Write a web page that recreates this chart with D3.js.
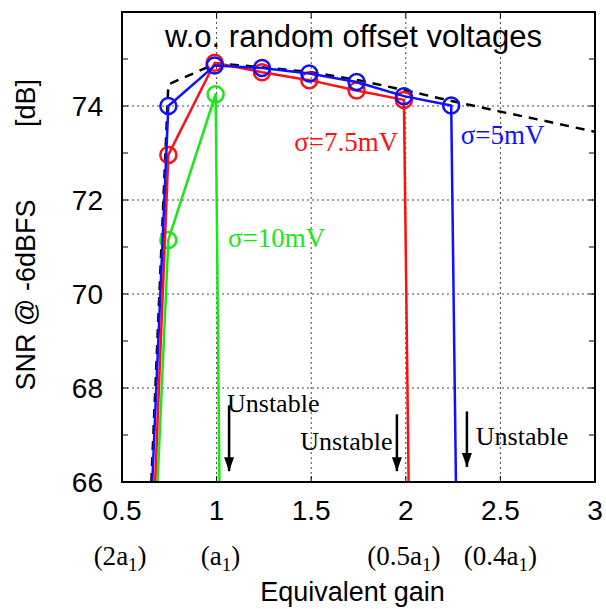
<!DOCTYPE html>
<html>
<head>
<meta charset="utf-8">
<script src="https://cdn.jsdelivr.net/npm/d3@7"></script>
<style>
  html, body { margin: 0; padding: 0; background: #fff; }
  svg { display: block; }
</style>
</head>
<body>
<div id="chart"></div>
<script>
// SNR vs equivalent gain, three offset sigmas + ideal (dashed) curve.

const xTicks = [0.5, 1, 1.5, 2, 2.5, 3];
const yTicks = [66, 68, 70, 72, 74];
const yMinor = [67, 69, 71, 73, 75];
const gainLabels = [
  { x: 0.49, pre: '(2', sub: '1' },
  { x: 1.02, pre: '(', sub: '1' },
  { x: 1.99, pre: '(0.5', sub: '1' },
  { x: 2.5, pre: '(0.4', sub: '1' }
];

// sigma = 5 mV
const blueX = [0.66, 0.745, 0.99, 1.24, 1.49, 1.74, 1.99, 2.24, 2.265];
const blueY = [66, 74.0, 74.86, 74.81, 74.69, 74.51, 74.21, 74.01, 66];
// sigma = 7.5 mV
const redX = [0.675, 0.745, 0.99, 1.24, 1.49, 1.74, 1.99, 2.015];
const redY = [66, 72.96, 74.92, 74.72, 74.55, 74.33, 74.13, 66];
// sigma = 10 mV
const greenX = [0.688, 0.745, 0.995, 1.015];
const greenY = [66, 71.15, 74.25, 66];
// without random offset voltages (dashed)
const idealX = [0.655, 0.745, 1.0, 1.25, 1.5, 1.75, 2.0, 2.25, 2.5, 2.75, 3.0];
const idealY = [66, 74.46, 74.91, 74.82, 74.72, 74.55, 74.33, 74.1, 73.88, 73.67, 73.45];

const series = [
  { xs: blueX, ys: blueY, color: '#1010ff', label: 'σ=5mV', lx: 2.29, ly: 73.2, anchor: 'start' },
  { xs: redX, ys: redY, color: '#ff1010', label: 'σ=7.5mV', lx: 1.96, ly: 73.05, anchor: 'end' },
  { xs: greenX, ys: greenY, color: '#18e818', label: 'σ=10mV', lx: 1.06, ly: 71.0, anchor: 'start' }
];

const unstable = [
  { tx: 1.055, ty: 67.5, anchor: 'start', ax: 1.066, ay1: 67.63, ay2: 66.23 },
  { tx: 1.93, ty: 66.68, anchor: 'end', ax: 1.953, ay1: 67.44, ay2: 66.23 },
  { tx: 2.37, ty: 66.78, anchor: 'start', ax: 2.323, ay1: 67.5, ay2: 66.32 }
];

const W = 606, H = 609;
const M = { left: 122, right: 11, top: 12, bottom: 127 };
const iw = W - M.left - M.right, ih = H - M.top - M.bottom;
const SANS = 'Liberation Sans, Arial, sans-serif';
const SERIF = 'Liberation Serif, Times New Roman, serif';

const x = d3.scaleLinear().domain([0.5, 3]).range([0, iw]);
const y = d3.scaleLinear().domain([66, 76]).range([ih, 0]);

const svg = d3.select('#chart').append('svg')
  .attr('width', W).attr('height', H)
  .attr('viewBox', `0 0 ${W} ${H}`);

svg.append('defs').append('clipPath').attr('id', 'plot')
  .append('rect').attr('width', iw).attr('height', ih);
svg.select('defs').append('marker')
  .attr('id', 'arrow').attr('viewBox', '0 0 14 10')
  .attr('refX', 14).attr('refY', 5)
  .attr('markerWidth', 14).attr('markerHeight', 10)
  .attr('markerUnits', 'userSpaceOnUse')
  .attr('orient', 'auto')
  .append('path').attr('d', 'M0,0 L14,5 L0,10 Z').attr('fill', '#000');

const g = svg.append('g').attr('transform', `translate(${M.left},${M.top})`);

// grid (dotted)
g.append('g').selectAll('line.gx').data(xTicks.slice(1, -1)).join('line')
  .attr('x1', d => x(d)).attr('x2', d => x(d)).attr('y1', 0).attr('y2', ih)
  .attr('stroke', '#444').attr('stroke-width', 1).attr('stroke-dasharray', '2,3');
g.append('g').selectAll('line.gy').data(yTicks.slice(1)).join('line')
  .attr('x1', 0).attr('x2', iw).attr('y1', d => y(d)).attr('y2', d => y(d))
  .attr('stroke', '#444').attr('stroke-width', 1).attr('stroke-dasharray', '2,3');

// inner ticks
const tickLen = 6;
const tk = g.append('g').attr('stroke', '#000').attr('stroke-width', 1);
yMinor.concat(yTicks.slice(1)).forEach(v => {
  tk.append('line').attr('x1', 0).attr('x2', tickLen).attr('y1', y(v)).attr('y2', y(v));
  tk.append('line').attr('x1', iw - tickLen).attr('x2', iw).attr('y1', y(v)).attr('y2', y(v));
});
xTicks.slice(1, -1).forEach(v => {
  tk.append('line').attr('x1', x(v)).attr('x2', x(v)).attr('y1', ih).attr('y2', ih - tickLen);
  tk.append('line').attr('x1', x(v)).attr('x2', x(v)).attr('y1', 0).attr('y2', tickLen);
});

// data
const line = d3.line().x(d => x(d[0])).y(d => y(d[1]));
const plot = g.append('g').attr('clip-path', 'url(#plot)');

plot.append('path')
  .datum(idealX.map((v, i) => [v, idealY[i]]))
  .attr('d', line).attr('fill', 'none')
  .attr('stroke', '#000').attr('stroke-width', 2.5)
  .attr('stroke-dasharray', '9,7');

series.slice().reverse().forEach(s => {
  const pts = s.xs.map((v, i) => [v, s.ys[i]]);
  plot.append('path').datum(pts).attr('d', line)
    .attr('fill', 'none').attr('stroke', s.color).attr('stroke-width', 2.5)
    .attr('stroke-linejoin', 'round');
  plot.selectAll(null).data(pts.slice(1, -1)).join('circle')
    .attr('cx', d => x(d[0])).attr('cy', d => y(d[1])).attr('r', 8)
    .attr('fill', 'none').attr('stroke', s.color).attr('stroke-width', 2.5);
});

// frame
g.append('rect').attr('width', iw).attr('height', ih)
  .attr('fill', 'none').attr('stroke', '#000').attr('stroke-width', 2);

// series labels
series.forEach(s => {
  g.append('text').attr('x', x(s.lx)).attr('y', y(s.ly))
    .attr('text-anchor', s.anchor)
    .attr('font-family', SERIF).attr('font-size', 27)
    .attr('fill', s.color).text(s.label);
});

// unstable annotations
unstable.forEach(u => {
  g.append('text').attr('x', x(u.tx)).attr('y', y(u.ty))
    .attr('text-anchor', u.anchor)
    .attr('font-family', SERIF).attr('font-size', 26)
    .attr('fill', '#000').text('Unstable');
  g.append('line')
    .attr('x1', x(u.ax)).attr('x2', x(u.ax))
    .attr('y1', y(u.ay1)).attr('y2', y(u.ay2))
    .attr('stroke', '#000').attr('stroke-width', 2.5)
    .attr('marker-end', 'url(#arrow)');
});

// title
g.append('text').attr('x', iw / 2 - 5).attr('y', 35)
  .attr('text-anchor', 'middle')
  .attr('font-family', SANS).attr('font-size', 31)
  .text('w.o. random offset voltages');

// y tick labels
g.append('g').selectAll('text').data(yTicks).join('text')
  .attr('x', -19).attr('y', d => y(d)).attr('dy', '0.36em')
  .attr('text-anchor', 'end')
  .attr('font-family', SANS).attr('font-size', 28)
  .text(d => d);

// x tick labels
g.append('g').selectAll('text').data(xTicks).join('text')
  .attr('x', d => x(d)).attr('y', ih + 38)
  .attr('text-anchor', 'middle')
  .attr('font-family', SANS).attr('font-size', 28)
  .text(d => d);

// gain labels, serif with subscript
gainLabels.forEach(l => {
  const t = g.append('text').attr('x', x(l.x)).attr('y', ih + 83)
    .attr('text-anchor', 'middle')
    .attr('font-family', SERIF).attr('font-size', 27);
  t.append('tspan').text(l.pre);
  t.append('tspan').text('a');
  t.append('tspan').attr('font-size', 19).attr('dy', 6).text(l.sub);
  t.append('tspan').attr('dy', -6).text(')');
});

// axis titles
g.append('text').attr('x', iw / 2 - 6).attr('y', ih + 119)
  .attr('text-anchor', 'middle')
  .attr('font-family', SANS).attr('font-size', 27)
  .text('Equivalent gain');

svg.append('text')
  .attr('transform', 'translate(35,295) rotate(-90)')
  .attr('text-anchor', 'middle')
  .attr('font-family', SANS).attr('font-size', 27)
  .text('SNR @ -6dBFS');
svg.append('text')
  .attr('transform', 'translate(35,103) rotate(-90)')
  .attr('text-anchor', 'middle')
  .attr('font-family', SANS).attr('font-size', 27)
  .text('[dB]');
</script>
</body>
</html>
